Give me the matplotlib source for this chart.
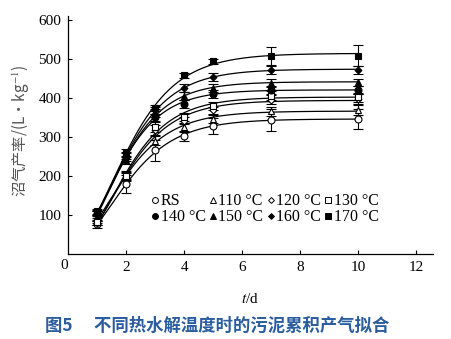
import numpy as np
import matplotlib
matplotlib.use("Agg")
import matplotlib.pyplot as plt
from matplotlib.lines import Line2D

plt.rcParams['font.family'] = ['Liberation Serif', 'DejaVu Serif']
plt.rcParams['mathtext.fontset'] = 'stix'

t = [1, 2, 3, 4, 5, 7, 10]
labels = ['RS', '110 °C', '120 °C', '130 °C', '140 °C', '150 °C', '160 °C', '170 °C']
markers = ['o', '^', 'D', 's', 'o', '^', 'D', 's']
filled = [False, False, False, False, True, True, True, True]
msizes = [5, 5, 3.5, 5, 5, 5, 3.5, 5]

y_RS = [75, 178, 265, 301, 328, 344, 346]
y_110 = [85, 202, 290, 325, 346, 366, 369]
y_120 = [79, 196, 318, 342, 368, 396, 397]
y_130 = [80, 200, 325, 352, 380, 406, 402]
y_140 = [103, 248, 350, 384, 410, 421, 421]
y_150 = [104, 240, 362, 406, 426, 439, 440]
y_160 = [105, 252, 368, 426, 454, 472, 472]
y_170 = [109, 258, 375, 458, 494, 507, 509]
series = [y_RS, y_110, y_120, y_130, y_140, y_150, y_160, y_170]

e_RS = [8, 23, 26, 12, 20, 28, 25]
e_110 = [6, 10, 12, 10, 10, 12, 12]
e_120 = [6, 10, 12, 10, 10, 12, 12]
e_130 = [6, 10, 12, 10, 10, 12, 12]
e_140 = [6, 10, 10, 10, 10, 10, 10]
e_150 = [6, 10, 10, 10, 10, 10, 10]
e_160 = [6, 10, 10, 10, 10, 10, 10]
e_170 = [6, 10, 8, 6, 6, 23, 27]
errors = [e_RS, e_110, e_120, e_130, e_140, e_150, e_160, e_170]


def gompertz(p, x):
    P, Rm, lam = p
    return P * np.exp(-np.exp(Rm * np.e / P * (lam - x) + 1))


def fit(x, y):
    x = np.asarray(x, float)
    y = np.asarray(y, float)
    p = np.array([y.max() * 1.02, 120.0, 0.2])
    mu = 1e-2
    for _ in range(300):
        r = y - gompertz(p, x)
        J = np.zeros((len(x), 3))
        for k in range(3):
            dp = np.zeros(3)
            dp[k] = 1e-6 * max(abs(p[k]), 1.0)
            J[:, k] = (gompertz(p + dp, x) - gompertz(p, x)) / dp[k]
        A = J.T @ J
        g = J.T @ r
        step = np.linalg.solve(A + mu * np.diag(np.diag(A)), g)
        pn = p + step
        if np.sum((y - gompertz(pn, x)) ** 2) < np.sum(r ** 2):
            p = pn
            mu *= 0.5
        else:
            mu *= 5
    return p


fig = plt.figure(figsize=(4.51, 3.39), dpi=100)
ax = fig.add_axes([0.1515, 0.252, 0.809, 0.70])

xs = np.linspace(1, 10, 200)
for y, e, m, f, ms, lab in zip(series, errors, markers, filled, msizes, labels):
    p = fit(t, y)
    ax.plot(xs, gompertz(p, xs), color='black', lw=0.9, zorder=2)
    ax.errorbar(t, y, yerr=e, fmt='none', ecolor='black', elinewidth=0.8,
                capsize=3.5, capthick=0.8, zorder=3)
    ax.plot(t, y, linestyle='none', marker=m, ms=ms,
            markerfacecolor='black' if f else 'white',
            markeredgecolor='black', markeredgewidth=0.8, zorder=4)

ax.set_xlim(0, 12.6)
ax.set_ylim(0, 610)
ax.set_xticks([2, 4, 6, 8, 10, 12])
ax.set_yticks([100, 200, 300, 400, 500, 600])
ax.tick_params(direction='in', length=3, width=0.8, labelsize=11, pad=5)
ax.text(0, -14, '0', ha='right', va='top', fontsize=11, transform=ax.transData)
for s in ['top', 'right']:
    ax.spines[s].set_visible(False)
for s in ['left', 'bottom']:
    ax.spines[s].set_linewidth(0.9)

handles = [Line2D([], [], linestyle='none', marker=m, ms=ms * 0.85,
                  markerfacecolor='black' if f else 'white',
                  markeredgecolor='black', markeredgewidth=0.7)
           for m, f, ms in zip(markers, filled, msizes)]
order = [0, 4, 1, 5, 2, 6, 3, 7]
ax.legend([handles[i] for i in order], [labels[i] for i in order], ncol=4,
          loc='lower left', bbox_to_anchor=(0.205, 0.085), frameon=False,
          fontsize=11.5, handlelength=0.5, handletextpad=0.1, columnspacing=0.2,
          labelspacing=0.0, borderpad=0)

fig.text(0.045, 0.615, '沼气产率/(L·kg$^{-1}$)', rotation=90, ha='center', va='center',
         fontsize=11, color='#555555', family=['Noto Sans CJK SC', 'DejaVu Sans'])
fig.text(0.555, 0.118, '$t$/d', ha='center', va='center', fontsize=11)
fig.text(0.1, 0.04, '图5　 不同热水解温度时的污泥累积产气拟合', ha='left', va='center',
         fontsize=12.5, fontweight='bold', color='#2a5c9e',
         family=['Noto Sans CJK SC', 'DejaVu Sans'])

fig.savefig('out.png', dpi=100)
